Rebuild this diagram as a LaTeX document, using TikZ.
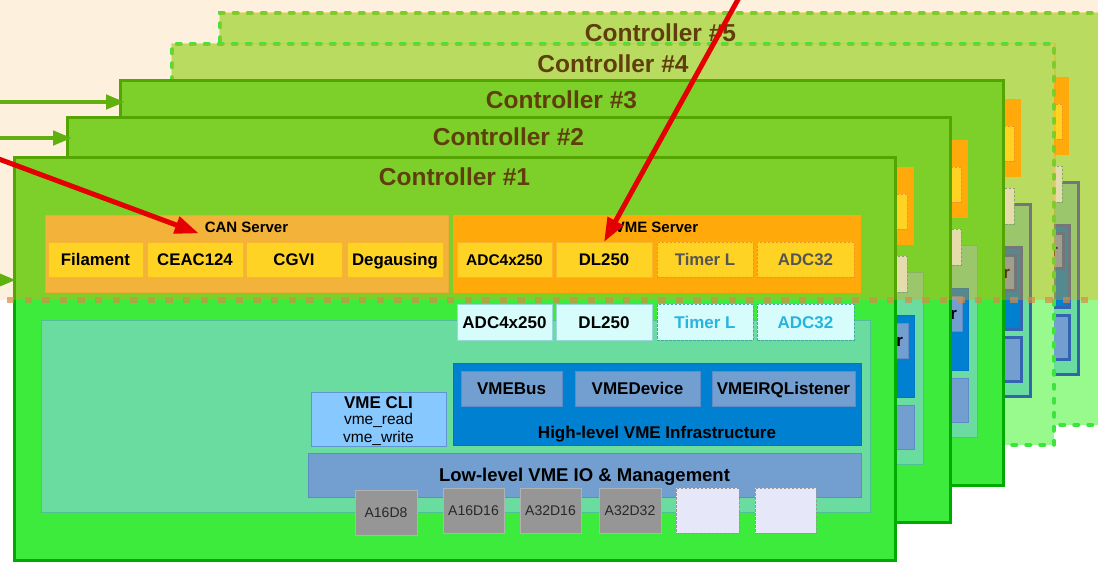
\documentclass[tikz,border=0pt]{standalone}
\usepackage{fontspec}
\setmainfont{Liberation Sans}
\usetikzlibrary{arrows.meta,calc}

% palette
\definecolor{bgTop}{RGB}{253,241,222}
\definecolor{ctrlFill}{RGB}{60,235,60}
\definecolor{ctrlLine}{RGB}{0,170,0}
\definecolor{ctrlFillL}{RGB}{152,250,140}
\definecolor{ctrlLineL}{RGB}{62,228,62}
\definecolor{tintC}{RGB}{255,156,5}
\definecolor{canFill}{RGB}{243,178,58}
\definecolor{canLine}{RGB}{238,170,55}
\definecolor{vmeFill}{RGB}{255,170,10}
\definecolor{modFill}{RGB}{254,211,35}
\definecolor{modLine}{RGB}{247,182,45}
\definecolor{modDash}{RGB}{240,150,40}
\definecolor{tealFill}{RGB}{106,220,160}
\definecolor{tealLine}{RGB}{80,190,150}
\definecolor{lightFill}{RGB}{215,252,252}
\definecolor{lightLine}{RGB}{150,215,215}
\definecolor{lightDash}{RGB}{70,165,175}
\definecolor{cyanText}{RGB}{40,180,225}
\definecolor{hlFill}{RGB}{0,128,208}
\definecolor{hlLine}{RGB}{0,118,198}
\definecolor{inFill}{RGB}{114,159,207}
\definecolor{inLine}{RGB}{95,140,200}
\definecolor{darkB}{RGB}{50,100,175}
\definecolor{cliFill}{RGB}{135,200,255}
\definecolor{cliLine}{RGB}{95,150,210}
\definecolor{greyFill}{RGB}{150,150,150}
\definecolor{greyLine}{RGB}{178,178,178}
\definecolor{greyText}{RGB}{40,40,40}
\definecolor{emptyFill}{RGB}{231,231,250}
\definecolor{emptyLine}{RGB}{150,150,150}
\definecolor{dimText}{RGB}{85,85,85}
\definecolor{titleC}{RGB}{96,62,12}
\definecolor{feedG}{RGB}{96,176,16}
\definecolor{hotR}{RGB}{228,0,0}
\definecolor{sepC}{RGB}{215,140,70}

% colours that change between solid and ghosted controllers
\colorlet{frmFill}{ctrlFill}
\colorlet{frmLine}{ctrlLine}
\colorlet{bTeal}{tealLine}
\colorlet{bHl}{hlLine}
\colorlet{bIn}{inLine}

\newcommand\fsz[1]{\fontsize{#1}{#1}\selectfont}

\tikzset{
  every node/.style={inner sep=0pt,outer sep=0pt,text depth=0pt},
  bf/.style={font=\bfseries\fsz{#1},text height={0.716*#1pt}},
  rm/.style={font=\fsz{#1},text height={0.716*#1pt}},
  ctrlframe/.style={draw=frmLine,fill=frmFill,line width=3pt},
  inlw/.style={line width=0.8pt},
  ctitle/.style={bf=24.5,text=titleC},
  srvlbl/.style={bf=15},
  cansrv/.style={fill=canFill,draw=canLine,line width=0.8pt},
  vmesrv/.style={fill=vmeFill,draw=vmeFill,line width=0.8pt},
  mod/.style={fill=modFill,draw=modLine,line width=0.8pt,bf=16.8},
  moddash/.style={mod,draw=modDash,dash pattern=on 2.5pt off 1.5pt,text=dimText},
  area/.style={fill=tealFill,draw=bTeal,inlw},
  lmod/.style={fill=lightFill,draw=lightLine,line width=0.8pt,bf=17},
  lmoddash/.style={lmod,draw=lightDash,dash pattern=on 2.5pt off 1.5pt,text=cyanText},
  hlbox/.style={fill=hlFill,draw=bHl,inlw},
  inbox/.style={fill=inFill,draw=bIn,inlw,bf=17},
  lbl/.style={bf=17},
  clibox/.style={fill=cliFill,draw=cliLine,line width=0.8pt},
  cmd/.style={rm=15.5},
  chip/.style={fill=greyFill,draw=greyLine,line width=0.8pt,rm=14,text=greyText},
  nochip/.style={fill=emptyFill,draw=emptyLine,line width=0.8pt,dash pattern=on 2.5pt off 1.5pt},
  tint/.style={fill=tintC,fill opacity=0.33},
  feed/.style={draw=feedG,line width=4.5pt,-{Triangle[length=19pt,width=14pt]}},
  hot/.style={draw=hotR,line width=5pt,-{Triangle[length=24pt,width=17pt]}},
  sepline/.style={draw=sepC,draw opacity=0.7,line width=6.5pt,dash pattern=on 7.3pt off 10.3pt},
}

% box from its corners: name, x1, y1, x2, y2, style, text
\newcommand\bx[7]{\node[#6,minimum width={(#4-#2)*1pt},minimum height={(#5-#3)*1pt}] (#1) at ({(#2+#4)/2},{(#3+#5)/2}) {#7};}

\newcommand\ctrlsolid{%
  \colorlet{frmFill}{ctrlFill}\colorlet{frmLine}{ctrlLine}%
  \colorlet{bTeal}{tealLine}\colorlet{bHl}{hlLine}\colorlet{bIn}{inLine}%
  \tikzset{ctrlframe/.style={draw=frmLine,fill=frmFill,line width=3pt},inlw/.style={line width=0.8pt}}}
\newcommand\ctrllight{%
  \colorlet{frmFill}{ctrlFillL}\colorlet{frmLine}{ctrlLineL}%
  \colorlet{bTeal}{darkB}\colorlet{bHl}{darkB}\colorlet{bIn}{darkB}%
  \tikzset{ctrlframe/.style={draw=frmLine,fill=frmFill,line width=3.5pt,dash pattern=on 4.5pt off 9.5pt,line cap=round},
           inlw/.style={line width=3pt}}}

% one controller: number, frame corners, content offset, look
\newcommand\controller[8]{%
  \begin{scope}
    \csname ctrl#8\endcsname
    \bx{c#1}{#2}{#3}{#4}{#5}{ctrlframe}{}
    \begin{scope}[shift={(#6,#7)}]
      \bx{c#1-area}{41}{320}{870}{512}{area}{}
      \bx{c#1-adcB}{457}{304}{552}{340}{lmod}{ADC4x250}
      \bx{c#1-dlB}{556}{304}{652}{340}{lmod}{DL250}
      \bx{c#1-tmB}{657}{304}{753}{340}{lmoddash}{Timer L}
      \bx{c#1-a32B}{757}{304}{854}{340}{lmoddash}{ADC32}
      \bx{c#1-hl}{453}{363}{861}{445}{hlbox}{}
      \node[lbl] (c#1-hltxt) at (657,432) {High-level VME Infrastructure};
      \bx{c#1-bus}{461}{371}{562}{406}{inbox}{VMEBus}
      \bx{c#1-dev}{575}{371}{700}{406}{inbox}{VMEDevice}
      \bx{c#1-irq}{712}{371}{855}{406}{inbox}{VMEIRQListener}
      \bx{c#1-cli}{311}{392}{446}{446}{clibox}{}
      \node[lbl] (c#1-clit) at (378.5,402) {VME CLI};
      \node[cmd] (c#1-rd) at (378.5,418.5) {vme\_read};
      \node[cmd] (c#1-wr) at (378.5,436.5) {vme\_write};
      \bx{c#1-low}{308}{453}{861}{497}{inbox,bf=18.5}{Low-level VME IO \& Management}
      \bx{c#1-m1}{355}{490}{417}{535}{chip}{A16D8}
      \bx{c#1-m2}{443}{488}{504}{533}{chip}{A16D16}
      \bx{c#1-m3}{520}{488}{581}{533}{chip}{A32D16}
      \bx{c#1-m4}{599}{488}{661}{533}{chip}{A32D32}
      \bx{c#1-m5}{676}{488}{739}{533}{nochip}{}
      \bx{c#1-m6}{755}{488}{816}{533}{nochip}{}
    \end{scope}
    \fill[tint] ({#2-1.5},{#3-1.5}) rectangle ({#4+1.5},300);
    \begin{scope}[shift={(#6,#7)}]
      \bx{c#1-can}{45}{215}{448}{292}{cansrv}{}
      \node[srvlbl] (c#1-canlbl) at (246.5,227) {CAN Server};
      \bx{c#1-fil}{48}{242}{143}{277}{mod}{Filament}
      \bx{c#1-ceac}{147}{242}{243}{277}{mod}{CEAC124}
      \bx{c#1-cgvi}{246}{242}{342}{277}{mod}{CGVI}
      \bx{c#1-deg}{347}{242}{443}{277}{mod}{Degausing}
      \bx{c#1-vme}{453}{215}{860}{292}{vmesrv}{}
      \node[srvlbl] (c#1-vmelbl) at (656.5,227) {VME Server};
      \bx{c#1-adcA}{457}{242}{552}{277}{mod,bf=15.5}{ADC4x250}
      \bx{c#1-dlA}{556}{242}{652}{277}{mod}{DL250}
      \bx{c#1-tmA}{657}{242}{753}{277}{moddash}{Timer L}
      \bx{c#1-a32A}{757}{242}{854}{277}{moddash}{ADC32}
    \end{scope}
    \node[ctitle] (c#1-title) at ({(#2+#4)/2},{#3+20}) {Controller \##1};
  \end{scope}}

\begin{document}
\begin{tikzpicture}[x=1pt,y=-1pt]
  \useasboundingbox (0,0) rectangle (1098,563);
  \clip (0,0) rectangle (1098,563);
  \fill[white] (0,0) rectangle (1098,563);
  \fill[bgTop] (0,0) rectangle (1098,300);

  % controllers, back to front
  \controller{5}{220}{13}{1101}{425}{208}{-138}{light}
  \controller{4}{172}{44}{1054}{445}{160}{-116}{light}
  \controller{3}{120}{80}{1003}{485}{107}{-75}{solid}
  \controller{2}{67}{117}{950}{522}{53}{-48}{solid}
  \controller{1}{14}{157}{895}{560}{0}{0}{solid}

  % incoming feeds
  \coordinate (g3) at (-5,102);
  \coordinate (g2) at (-5,138);
  \coordinate (g1) at (-40,280);
  \draw[feed,shorten >=-5pt] (g3) -- (c3.west |- g3);
  \draw[feed,shorten >=-5pt] (g2) -- (c2.west |- g2);
  \draw[feed,shorten >=-2pt] (g1) -- (c1.west |- g1);

  % highlighted paths
  \coordinate (r1) at (-20,152);
  \coordinate (r2) at (746,-15);
  \draw[hot] (r1) -- ($(c1-canlbl.south west)+(-6,1)$);
  \draw[hot] (r2) -- (c1-dlA.north);

  % boundary between the two layers
  \coordinate (sepA) at (7,300);
  \coordinate (sepB) at (1100,300);
  \draw[sepline] (sepA) -- (sepB);
\end{tikzpicture}
\end{document}
